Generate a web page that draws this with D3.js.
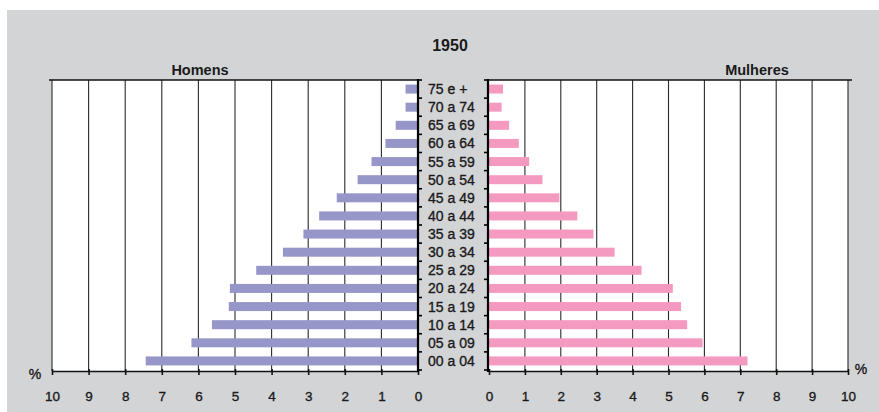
<!DOCTYPE html>
<html>
<head>
<meta charset="utf-8">
<script src="https://cdn.jsdelivr.net/npm/d3@7"></script>
<style>
  html, body { margin: 0; padding: 0; background: #ffffff; }
  svg { display: block; font-family: "Liberation Sans", Arial, sans-serif; }
</style>
</head>
<body>
<svg id="chart" width="879" height="412"></svg>
<script>
// ---- data ----
const title = "1950";
const categories = ["75 e +", "70 a 74", "65 a 69", "60 a 64", "55 a 59", "50 a 54", "45 a 49",
  "40 a 44", "35 a 39", "30 a 34", "25 a 29", "20 a 24", "15 a 19", "10 a 14", "05 a 09", "00 a 04"];
const homens =   [0.34, 0.34, 0.61, 0.89, 1.27, 1.65, 2.22, 2.70, 3.13, 3.69, 4.42, 5.14, 5.17, 5.63, 6.19, 7.44];
const mulheres = [0.39, 0.35, 0.56, 0.83, 1.12, 1.49, 1.96, 2.46, 2.91, 3.50, 4.25, 5.12, 5.35, 5.52, 5.95, 7.20];
const tickValues = [0, 1, 2, 3, 4, 5, 6, 7, 8, 9, 10];
const seriesNames = ["Homens", "Mulheres"];
const unitLabel = "%";

// ---- layout ----
const svg = d3.select("#chart");
const plotTop = 80, plotBottom = 371;
const leftX0 = 52, leftX1 = 418;   // 10 .. 0
const rightX0 = 489, rightX1 = 848; // 0 .. 10
const colH = "#9696c9", colM = "#f49ac1";
const gridCol = "#2a2a2a";
const textCol = "#1a1a1a";

svg.append("rect").attr("x", 7).attr("y", 10).attr("width", 872).attr("height", 402).attr("fill", "#d3d4d6");

const y = d3.scaleBand().domain(categories).range([plotTop, 370]);
const xL = d3.scaleLinear().domain([0, 10]).range([leftX1, leftX0]);
const xR = d3.scaleLinear().domain([0, 10]).range([rightX0, rightX1]);
const barH = 9;

// panels (white)
svg.append("rect").attr("x", leftX0).attr("y", plotTop).attr("width", leftX1 - leftX0).attr("height", plotBottom - plotTop).attr("fill", "#fff");
svg.append("rect").attr("x", rightX0).attr("y", plotTop).attr("width", rightX1 - rightX0).attr("height", plotBottom - plotTop).attr("fill", "#fff");

// gridlines
svg.append("g").selectAll("line").data(tickValues.filter(d => d > 0)).join("line")
  .attr("x1", d => xL(d)).attr("x2", d => xL(d)).attr("y1", plotTop).attr("y2", plotBottom)
  .attr("stroke", gridCol).attr("stroke-width", 1.1);
svg.append("g").selectAll("line").data(tickValues.filter(d => d > 0)).join("line")
  .attr("x1", d => xR(d)).attr("x2", d => xR(d)).attr("y1", plotTop).attr("y2", plotBottom)
  .attr("stroke", gridCol).attr("stroke-width", 1.1);

// top border lines
svg.append("line").attr("x1", 49).attr("x2", leftX1).attr("y1", plotTop).attr("y2", plotTop).attr("stroke", "#111").attr("stroke-width", 1.5);
svg.append("line").attr("x1", rightX0 - 1).attr("x2", 852).attr("y1", plotTop).attr("y2", plotTop).attr("stroke", "#111").attr("stroke-width", 1.5);

// bars
const yc = d => y(d) + y.bandwidth() / 2;
svg.append("g").selectAll("rect").data(categories).join("rect")
  .attr("x", (d, i) => xL(homens[i])).attr("width", (d, i) => xL(0) - xL(homens[i]))
  .attr("y", d => yc(d) - barH / 2).attr("height", barH).attr("fill", colH);
svg.append("g").selectAll("rect").data(categories).join("rect")
  .attr("x", xR(0)).attr("width", (d, i) => xR(mulheres[i]) - xR(0))
  .attr("y", d => yc(d) - barH / 2).attr("height", barH).attr("fill", colM);

// bottom axes
function styleAxis(g) {
  g.selectAll("path.domain").attr("stroke", "#111").attr("stroke-width", 1.6);
  g.selectAll(".tick line").attr("stroke", "#111").attr("stroke-width", 1.6).attr("y1", -2);
  g.selectAll(".tick text").attr("font-size", "13.5px").attr("fill", textCol)
    .attr("stroke", textCol).attr("stroke-width", 0.35).attr("dy", "1.05em");
}
svg.append("g").attr("transform", `translate(0,${plotBottom})`)
  .call(d3.axisBottom(xL).tickValues(tickValues).tickFormat(d3.format("d")).tickSize(4).tickSizeOuter(0).tickPadding(12))
  .call(styleAxis);
svg.append("g").attr("transform", `translate(0,${plotBottom})`)
  .call(d3.axisBottom(xR).tickValues(tickValues).tickFormat(d3.format("d")).tickSize(4).tickSizeOuter(0).tickPadding(12))
  .call(styleAxis);

// vertical category axes (ticks at band boundaries)
const boundaries = categories.map(d => y(d)).concat([370]);
function vAxis(x, dir) {
  const g = svg.append("g");
  g.append("line").attr("x1", x).attr("x2", x).attr("y1", plotTop - 1).attr("y2", plotBottom + 1)
    .attr("stroke", "#000").attr("stroke-width", 2.2);
  g.selectAll("line.t").data(boundaries).join("line").attr("class", "t")
    .attr("x1", x).attr("x2", x + dir * 4).attr("y1", d => d).attr("y2", d => d)
    .attr("stroke", "#000").attr("stroke-width", 1.6);
}
vAxis(leftX1, 1);
vAxis(rightX0 - 1, -1);

// category labels
svg.append("g").selectAll("text").data(categories).join("text")
  .attr("x", 428).attr("y", d => yc(d) + 5)
  .attr("font-size", "14px").attr("fill", textCol)
  .attr("stroke", textCol).attr("stroke-width", 0.35)
  .text(d => d);

// titles
svg.append("text").attr("x", 450).attr("y", 51).attr("text-anchor", "middle")
  .attr("font-size", "16px").attr("font-weight", "bold").attr("fill", textCol).text(title);
svg.append("text").attr("x", 200).attr("y", 74.5).attr("text-anchor", "middle")
  .attr("font-size", "14.5px").attr("font-weight", "bold").attr("fill", textCol).text(seriesNames[0]);
svg.append("text").attr("x", 757).attr("y", 75).attr("text-anchor", "middle")
  .attr("font-size", "14.5px").attr("font-weight", "bold").attr("fill", textCol).text(seriesNames[1]);

// % labels
svg.append("text").attr("x", 35).attr("y", 379).attr("text-anchor", "middle")
  .attr("font-size", "14px").attr("fill", textCol).attr("stroke", textCol).attr("stroke-width", 0.35).text(unitLabel);
svg.append("text").attr("x", 861).attr("y", 374).attr("text-anchor", "middle")
  .attr("font-size", "14px").attr("fill", textCol).attr("stroke", textCol).attr("stroke-width", 0.35).text(unitLabel);
</script>
</body>
</html>
